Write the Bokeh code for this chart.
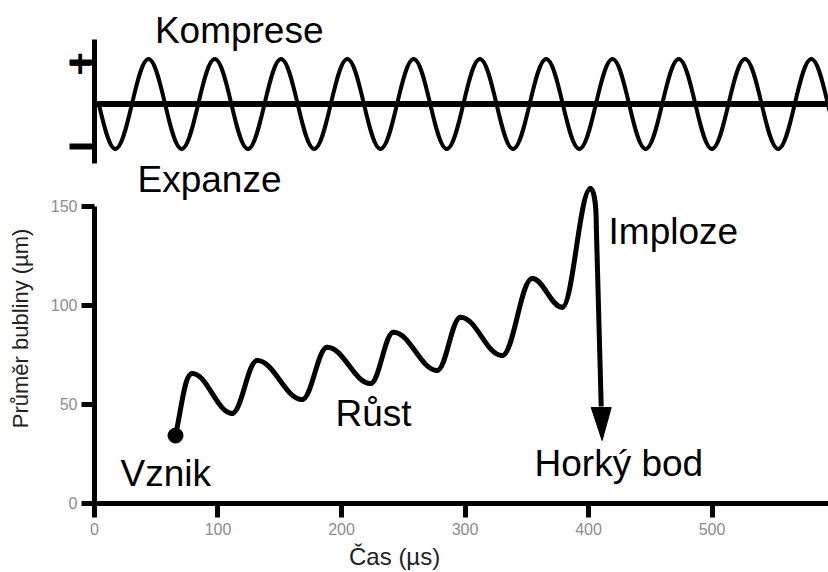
import math
from bokeh.plotting import figure
from bokeh.models import Range1d, LinearAxis, FixedTicker, Label, CustomJSTickFormatter
from bokeh.embed import file_html
from bokeh.resources import INLINE

# ---------------- data ----------------
# bubble diameter curve: successive extremes (time in µs, diameter in µm)
CURVE_X = [65.6, 79.1, 111.5, 131.7, 168.2, 188.4, 223.5, 242.1, 277.5, 296.4, 330.1, 354.4, 378.7, 401.6]
CURVE_Y = [34.3, 65.7, 45.5, 72.2, 52.5, 78.9, 60.6, 86.5, 67.2, 94.1, 74.7, 113.6, 99.1, 159.1]
# implosion: start of the fall and the hot-spot end point
DROP_X = [406.3, 411.0]
DROP_Y = [140.0, 31.8]

# acoustic pressure wave: crossing at the axis, then extremes (phase in cycles, relative pressure)
WAVE_PHASE = [0, 0.25, 0.75, 1.25, 1.75, 2.25, 2.75, 3.25, 3.75, 4.25, 4.75, 5.25,
              5.75, 6.25, 6.75, 7.25, 7.75, 8.25, 8.75, 9.25, 9.75, 10.25, 10.75, 11.25]
WAVE_LEVEL = [0, -1, 1, -1, 1, -1, 1, -1, 1, -1, 1, -1,
              1, -1, 1, -1, 1, -1, 1, -1, 1, -1, 1, -1]
WAVE_TICKS = [-0.95, 0.92]

X_TICKS = [0, 100, 200, 300, 400, 500]
Y_TICKS = [0, 50, 100, 150]

X_TITLE = "Čas (µs)"
Y_TITLE = "Průměr bubliny (µm)"

# ---------------- figure ----------------
W, H = 828, 572
X_START, X_END = -76.1, 594.3
Y_START, Y_END = -34.85, 254.0
XU = (X_END - X_START) / W   # data units per pixel
YU = (Y_END - Y_START) / H

p = figure(width=W, height=H, x_range=Range1d(X_START, X_END), y_range=Range1d(Y_START, Y_END),
           output_backend="svg", toolbar_location=None, min_border=0)
p.outline_line_color = None
p.grid.visible = False
p.background_fill_color = "white"
p.border_fill_color = "white"
p.extra_x_ranges = {"phase": Range1d(-1.483, 11.009)}
p.extra_y_ranges = {"wave": Range1d(-10.411, 2.3)}

TICK_COLOR = "#8c8c8c"
xa = p.xaxis[0]
xa.fixed_location = 0
xa.bounds = (0, X_END)
xa.ticker = FixedTicker(ticks=X_TICKS)
xa.axis_line_width = 5
xa.major_tick_line_width = 5
xa.major_tick_out = 14
xa.major_tick_in = 0
xa.minor_tick_out = 0
xa.minor_tick_in = 0
xa.major_label_text_font = "Liberation Sans"
xa.major_label_text_font_size = "16px"
xa.major_label_text_color = TICK_COLOR
xa.major_label_standoff = 6

ya = p.yaxis[0]
ya.fixed_location = 0
ya.bounds = (0, 150)
ya.ticker = FixedTicker(ticks=Y_TICKS)
ya.axis_line_width = 5
ya.major_tick_line_width = 5
ya.major_tick_out = 13
ya.major_tick_in = 0
ya.minor_tick_out = 0
ya.minor_tick_in = 0
ya.major_label_text_font = "Liberation Sans"
ya.major_label_text_font_size = "16px"
ya.major_label_text_color = TICK_COLOR
ya.major_label_standoff = 4

# vertical axis of the pressure wave with "+" / "-" marks
wave_axis = LinearAxis(y_range_name="wave", fixed_location=0, bounds=(-1.32, 1.43),
                       ticker=FixedTicker(ticks=WAVE_TICKS),
                       formatter=CustomJSTickFormatter(code="return tick > 0 ? '+' : ''"),
                       axis_line_width=5, major_tick_line_width=6,
                       major_tick_out=25, major_tick_in=0,
                       minor_tick_out=0, minor_tick_in=0,
                       major_label_standoff=-24,
                       major_label_text_font="DejaVu Sans",
                       major_label_text_font_style="bold",
                       major_label_text_font_size="32px",
                       major_label_text_color="black")
p.add_layout(wave_axis, "left")

# ---------------- pressure wave ----------------
K_WAVE = 0.364
wx0, wy0, wx1, wy1, wcx0, wcy0, wcx1, wcy1 = [], [], [], [], [], [], [], []
for i in range(len(WAVE_PHASE) - 1):
    a, b = WAVE_PHASE[i], WAVE_PHASE[i + 1]
    la, lb = WAVE_LEVEL[i], WAVE_LEVEL[i + 1]
    d = b - a
    wx0.append(a); wy0.append(la)
    wx1.append(b); wy1.append(lb)
    if la == 0:   # quarter wave starting at a zero crossing
        wcx0.append(a + d / 3); wcy0.append(la + (lb - la) * 2 * math.pi * d / 3)
        wcx1.append(b - 0.35 * d); wcy1.append(lb)
    else:
        wcx0.append(a + K_WAVE * d); wcy0.append(la)
        wcx1.append(b - K_WAVE * d); wcy1.append(lb)
p.bezier(x0=wx0, y0=wy0, x1=wx1, y1=wy1, cx0=wcx0, cy0=wcy0, cx1=wcx1, cy1=wcy1,
         x_range_name="phase", y_range_name="wave",
         line_color="black", line_width=4, line_cap="round")
p.segment(x0=[0], y0=[0], x1=[X_END], y1=[0], y_range_name="wave",
          line_color="black", line_width=6)

# ---------------- bubble curve ----------------
K = 0.38
bx0, by0, bx1, by1, bcx0, bcy0, bcx1, bcy1 = [], [], [], [], [], [], [], []
for i in range(len(CURVE_X) - 1):
    x0, y0, x1, y1 = CURVE_X[i], CURVE_Y[i], CURVE_X[i + 1], CURVE_Y[i + 1]
    dx, dy = x1 - x0, y1 - y0
    bx0.append(x0); by0.append(y0); bx1.append(x1); by1.append(y1)
    if i == 0:
        bcx0.append(x0 + 0.4 * dx); bcy0.append(y0 + 0.5 * dy)
        bcx1.append(x1 - 0.45 * dx); bcy1.append(y1)
    else:
        bcx0.append(x0 + K * dx); bcy0.append(y0)
        bcx1.append(x1 - K * dx); bcy1.append(y1)
# rounded top into the fall
x0, y0, x1, y1 = CURVE_X[-1], CURVE_Y[-1], DROP_X[0], DROP_Y[0]
bx0.append(x0); by0.append(y0); bx1.append(x1); by1.append(y1)
bcx0.append(x0 + 0.6 * (x1 - x0)); bcy0.append(y0)
bcx1.append(x1); bcy1.append(y1 + 0.55 * (y0 - y1))
p.bezier(x0=bx0, y0=by0, x1=bx1, y1=by1, cx0=bcx0, cy0=bcy0, cx1=bcx1, cy1=bcy1,
         line_color="black", line_width=5, line_cap="round")

# fall with arrow head
HEAD_W_PX, HEAD_L_PX = 20, 33
tip_x, tip_y = DROP_X[1], DROP_Y[1]
base_y = tip_y + HEAD_L_PX * YU
base_x = DROP_X[0] + (DROP_X[1] - DROP_X[0]) * (DROP_Y[0] - base_y) / (DROP_Y[0] - DROP_Y[1])
p.line(x=[DROP_X[0], base_x], y=[DROP_Y[0], base_y + 0.5], line_color="black", line_width=5)
hw = HEAD_W_PX / 2 * XU
p.patch(x=[base_x - hw, base_x + hw, tip_x], y=[base_y, base_y, tip_y],
        fill_color="black", line_color="black", line_width=1)

# origin dot
p.scatter(x=[CURVE_X[0]], y=[CURVE_Y[0]], size=15, color="black")

# ---------------- texts ----------------
BIG = dict(text_font="Liberation Sans", text_font_size="37px", text_color="black",
           text_baseline="alphabetic")
for x, y, t in [(48.9, 239.0, "Komprese"), (34.8, 163.5, "Expanze"),
                (416.2, 137.5, "Imploze"), (195.1, 45.2, "Růst"),
                (21.1, 14.9, "Vznik"), (356.3, 20.0, "Horký bod")]:
    p.add_layout(Label(x=x, y=y, text=t, **BIG))

p.add_layout(Label(x=243, y=-27.0, text=X_TITLE, text_align="center",
                   text_baseline="alphabetic", text_font="Liberation Sans",
                   text_font_size="24px", text_color="#222222"))
p.add_layout(Label(x=-60.0, y=88.4, text=Y_TITLE, angle=math.pi / 2, text_align="center",
                   text_baseline="middle", text_font="Liberation Sans",
                   text_font_size="22px", text_color="#222222"))

open("out.html", "w").write(file_html(p, INLINE))
